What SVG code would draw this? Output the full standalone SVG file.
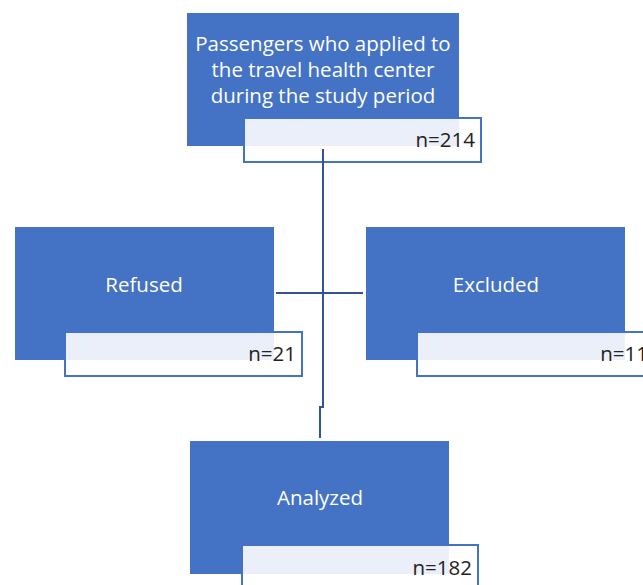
<svg xmlns="http://www.w3.org/2000/svg" width="643" height="585" viewBox="0 0 643 585">
<style>
.blue{fill:#4472C4;}
.lbl{fill:#FFFFFF;fill-opacity:0.89;stroke:#4472C4;stroke-width:2;}
.t{font-family:"Open Sans",Lato,"Liberation Sans",sans-serif;font-size:20.5px;fill:#FFFFFF;text-anchor:middle;}
.n{font-family:"Open Sans",Lato,"Liberation Sans",sans-serif;font-size:20.5px;fill:#222222;text-anchor:end;}
.c{fill:none;stroke:#2F5597;stroke-width:2;}
</style>
<rect width="643" height="585" fill="#FFFFFF"/>
<g id="node-applied">
<rect class="blue" x="187" y="13" width="272" height="133"/>
<text class="t" x="323" y="51">Passengers who applied to</text>
<text class="t" x="323" y="77">the travel health center</text>
<text class="t" x="323" y="103">during the study period</text>
<rect class="lbl" x="244" y="118" width="237" height="44"/>
<text class="n" x="475" y="147">n=214</text>
</g>
<g id="node-refused">
<rect class="blue" x="15" y="227" width="259" height="133"/>
<text class="t" x="144" y="292">Refused</text>
<rect class="lbl" x="65" y="332" width="237" height="44"/>
<text class="n" x="296" y="361">n=21</text>
</g>
<g id="node-excluded">
<rect class="blue" x="366" y="227" width="259" height="133"/>
<text class="t" x="496" y="292">Excluded</text>
<rect class="lbl" x="417" y="332" width="237" height="44"/>
<text class="n" x="648" y="361">n=11</text>
</g>
<g id="node-analyzed">
<rect class="blue" x="190" y="441" width="259" height="133"/>
<text class="t" x="320" y="505">Analyzed</text>
<rect class="lbl" x="242" y="545" width="236" height="44"/>
<text class="n" x="472" y="575">n=182</text>
</g>
<g id="connectors">
<path class="c" d="M276,293 H363"/>
<path class="c" d="M323,149 V407 H320 V438"/>
</g>
</svg>
